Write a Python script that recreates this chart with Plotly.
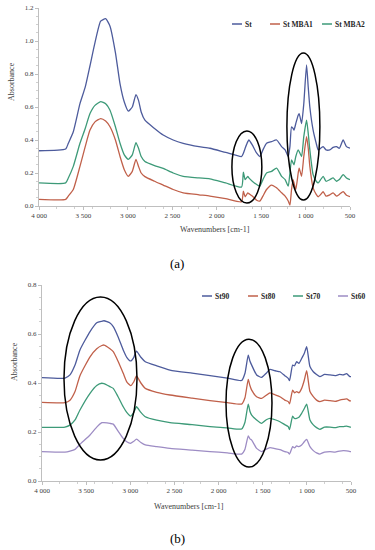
import plotly.graph_objects as go

# ---------------- Panel (a) data ----------------
a_wn = [4000, 3700, 3670, 3614, 3539, 3480, 3426, 3370, 3306, 3250, 3201, 3140, 3088, 3040, 2995, 2950,
        2909, 2880, 2850, 2808, 2700, 2602, 2490, 2377, 2200, 2077, 1900, 1720, 1700, 1680, 1650, 1638,
        1600, 1550, 1514, 1480, 1439, 1383, 1326, 1270, 1230, 1195, 1176, 1158, 1140, 1130, 1110, 1083,
        1072, 1045, 1020, 989, 970, 952, 915, 880, 858, 830, 802, 770, 727, 690, 652, 620, 577, 540, 500]
a_st = [0.335, 0.345, 0.38, 0.45, 0.62, 0.72, 0.85, 0.99, 1.12, 1.135, 1.09, 0.93, 0.74, 0.63, 0.575, 0.60,
        0.675, 0.64, 0.57, 0.52, 0.47, 0.43, 0.40, 0.38, 0.36, 0.35, 0.325, 0.30, 0.32, 0.35, 0.39, 0.40,
        0.37, 0.32, 0.30, 0.34, 0.38, 0.39, 0.40, 0.36, 0.34, 0.30, 0.36, 0.48, 0.47, 0.46, 0.50, 0.55,
        0.56, 0.50, 0.62, 0.855, 0.72, 0.60, 0.46, 0.38, 0.34, 0.35, 0.36, 0.34, 0.34, 0.355, 0.36, 0.35, 0.40, 0.36, 0.35]
a_mba1 = [0.04, 0.04, 0.06, 0.10, 0.24, 0.36, 0.46, 0.51, 0.53, 0.515, 0.48, 0.40, 0.30, 0.22, 0.18, 0.21,
          0.283, 0.24, 0.20, 0.178, 0.15, 0.127, 0.10, 0.08, 0.068, 0.06, 0.045, 0.026, 0.09, 0.056, 0.08, 0.075,
          0.06, 0.035, 0.03, 0.06, 0.10, 0.127, 0.11, 0.08, 0.06, 0.03, 0.005, 0.10, 0.16, 0.14, 0.10, 0.20,
          0.23, 0.18, 0.30, 0.42, 0.35, 0.24, 0.11, 0.07, 0.056, 0.07, 0.087, 0.06, 0.067, 0.08, 0.06, 0.07, 0.087, 0.065, 0.056]
a_mba2 = [0.14, 0.14, 0.17, 0.24, 0.38, 0.47, 0.56, 0.61, 0.632, 0.62, 0.58, 0.48, 0.38, 0.31, 0.283, 0.31,
          0.384, 0.35, 0.30, 0.27, 0.245, 0.228, 0.20, 0.18, 0.17, 0.165, 0.14, 0.115, 0.205, 0.16, 0.18, 0.17,
          0.15, 0.13, 0.12, 0.16, 0.20, 0.21, 0.23, 0.18, 0.16, 0.12, 0.20, 0.28, 0.26, 0.25, 0.30, 0.34,
          0.33, 0.30, 0.42, 0.52, 0.44, 0.34, 0.19, 0.15, 0.14, 0.16, 0.18, 0.15, 0.16, 0.17, 0.15, 0.16, 0.19, 0.17, 0.16]

# ---------------- Panel (b) data ----------------
b_wn = [4000, 3740, 3683, 3626, 3570, 3456, 3380, 3322, 3298, 3230, 3193, 3140, 3080, 3040, 2996, 2960,
        2930, 2880, 2830, 2700, 2550, 2300, 2097, 1900, 1739, 1701, 1664, 1645, 1625, 1569, 1512, 1460,
        1418, 1360, 1305, 1250, 1211, 1196, 1161, 1140, 1116, 1090, 1059, 1030, 1002, 965, 927, 890,
        852, 800, 738, 680, 630, 588, 550, 512, 500]
b_st90 = [0.422, 0.42, 0.433, 0.473, 0.535, 0.61, 0.646, 0.652, 0.654, 0.645, 0.63, 0.59, 0.535, 0.505, 0.49, 0.505,
          0.53, 0.505, 0.487, 0.47, 0.453, 0.44, 0.43, 0.42, 0.41, 0.44, 0.514, 0.49, 0.473, 0.433, 0.423, 0.44,
          0.456, 0.45, 0.446, 0.43, 0.419, 0.41, 0.473, 0.47, 0.487, 0.48, 0.50, 0.52, 0.548, 0.467, 0.446, 0.435,
          0.426, 0.435, 0.433, 0.43, 0.435, 0.433, 0.438, 0.426, 0.426]
b_st80 = [0.321, 0.32, 0.33, 0.365, 0.43, 0.507, 0.54, 0.553, 0.555, 0.54, 0.528, 0.49, 0.44, 0.405, 0.389, 0.405,
          0.429, 0.40, 0.378, 0.362, 0.351, 0.338, 0.328, 0.32, 0.314, 0.34, 0.415, 0.39, 0.371, 0.344, 0.337, 0.35,
          0.36, 0.352, 0.344, 0.33, 0.324, 0.315, 0.371, 0.36, 0.365, 0.36, 0.378, 0.41, 0.45, 0.365, 0.344, 0.33,
          0.324, 0.33, 0.328, 0.325, 0.33, 0.333, 0.335, 0.327, 0.327]
b_st70 = [0.219, 0.22, 0.228, 0.249, 0.29, 0.358, 0.39, 0.399, 0.397, 0.385, 0.378, 0.345, 0.303, 0.28, 0.265, 0.28,
          0.303, 0.28, 0.262, 0.248, 0.238, 0.23, 0.222, 0.217, 0.212, 0.24, 0.314, 0.285, 0.269, 0.249, 0.235, 0.25,
          0.256, 0.25, 0.242, 0.23, 0.222, 0.21, 0.265, 0.255, 0.256, 0.26, 0.276, 0.295, 0.314, 0.249, 0.229, 0.218,
          0.211, 0.22, 0.22, 0.218, 0.222, 0.222, 0.224, 0.22, 0.22]
b_st60 = [0.12, 0.118, 0.122, 0.129, 0.15, 0.188, 0.22, 0.238, 0.238, 0.235, 0.232, 0.205, 0.174, 0.16, 0.154, 0.162,
          0.171, 0.157, 0.147, 0.14, 0.133, 0.126, 0.12, 0.115, 0.11, 0.13, 0.184, 0.172, 0.167, 0.133, 0.12, 0.13,
          0.136, 0.132, 0.128, 0.12, 0.116, 0.11, 0.14, 0.135, 0.143, 0.14, 0.147, 0.16, 0.17, 0.14, 0.124, 0.115,
          0.11, 0.118, 0.12, 0.118, 0.122, 0.124, 0.123, 0.12, 0.12]

x_tickvals = [4000, 3500, 3000, 2500, 2000, 1500, 1000, 500]
x_ticktext = ["4 000", "3 500", "3 000", "2 500", "2 000", "1 500", "1 000", "500"]
a_yticks = [0.0, 0.2, 0.4, 0.6, 0.8, 1.0, 1.2]
b_yticks = [0.0, 0.2, 0.4, 0.6, 0.8]

a_names = ["St", "St MBA1", "St MBA2"]
b_names = ["St90", "St80", "St70", "St60"]

C_BLUE = "#4d5b9c"
C_RED = "#c0604a"
C_GREEN = "#3d9a78"
C_PURPLE = "#9d8cc4"

W, H = 375, 550
def px(x):
    return x / W
def py(y):
    return 1 - y / H

fig = go.Figure()
for name, ys, col in zip(a_names, [a_st, a_mba1, a_mba2], [C_BLUE, C_RED, C_GREEN]):
    fig.add_trace(go.Scatter(x=a_wn, y=ys, name=name, mode="lines", xaxis="x", yaxis="y",
                             line=dict(color=col, width=1.3, shape="spline", smoothing=0.5),
                             showlegend=False))
for name, ys, col in zip(b_names, [b_st90, b_st80, b_st70, b_st60], [C_BLUE, C_RED, C_GREEN, C_PURPLE]):
    fig.add_trace(go.Scatter(x=b_wn, y=ys, name=name, mode="lines", xaxis="x2", yaxis="y2",
                             line=dict(color=col, width=1.3, shape="spline", smoothing=0.5),
                             showlegend=False))

tickfont = dict(family="Liberation Serif", size=7, color="#404040")
axcommon = dict(showline=True, linecolor="#bfbfbf", linewidth=1, ticks="outside", ticklen=3,
                tickcolor="#bfbfbf", showgrid=False, zeroline=False, tickfont=tickfont, automargin=False,
                minor=dict(ticks="outside", ticklen=2, tickcolor="#d0d0d0"))

fig.update_layout(
    width=W, height=H, margin=dict(l=0, r=0, t=0, b=0, autoexpand=False),
    paper_bgcolor="white", plot_bgcolor="white",
    xaxis=dict(domain=[px(39), px(350)], anchor="y", range=[4000, 500],
               tickvals=x_tickvals, ticktext=x_ticktext, **axcommon),
    yaxis=dict(domain=[py(206), py(8)], anchor="x", range=[0, 1.2],
               tickvals=a_yticks, tickformat=".1f", **axcommon),
    xaxis2=dict(domain=[px(42), px(351)], anchor="y2", range=[4000, 500],
                tickvals=x_tickvals, ticktext=x_ticktext, **axcommon),
    yaxis2=dict(domain=[py(481), py(285)], anchor="x2", range=[0, 0.8],
                tickvals=b_yticks, tickformat=".1f", **axcommon),
    showlegend=False,
)

# Ellipses
ell = dict(type="circle", line=dict(color="black", width=1.5), fillcolor="rgba(0,0,0,0)")
fig.add_shape(xref="x", yref="y", x0=1829, x1=1492, y0=0.018, y1=0.455, **ell)
fig.add_shape(xref="x", yref="y", x0=1210, x1=839, y0=0.036, y1=0.927, **ell)
fig.add_shape(xref="x2", yref="y2", x0=3751, x1=2924, y0=0.086, y1=0.751, **ell)
fig.add_shape(xref="x2", yref="y2", x0=1916, x1=1395, y0=0.057, y1=0.579, **ell)

serif = "Liberation Serif"
ann = []
# Axis titles
ann.append(dict(text="Absorbance", x=px(12), y=py(82), textangle=-90, font=dict(family=serif, size=8, color="#404040")))
ann.append(dict(text="Absorbance", x=px(14), y=py(362), textangle=-90, font=dict(family=serif, size=8, color="#404040")))
ann.append(dict(text="Wavenumbers [cm-1]", x=px(215), y=py(229), font=dict(family=serif, size=8, color="#404040")))
ann.append(dict(text="Wavenumbers [cm-1]", x=px(189), y=py(506), font=dict(family=serif, size=8, color="#404040")))
ann.append(dict(text="(a)", x=px(177), y=py(263), font=dict(family=serif, size=13, color="black")))
ann.append(dict(text="(b)", x=px(177), y=py(538), font=dict(family=serif, size=13, color="black")))

# Legends: short coloured line sample + bold label
def legend_item(name, col, x, y):
    fig.add_shape(type="line", xref="paper", yref="paper", x0=px(x), x1=px(x + 10), y0=py(y), y1=py(y),
                  line=dict(color=col, width=1.5))
    ann.append(dict(text="<b>%s</b>" % name, x=px(x + 11), y=py(y), xanchor="left",
                    font=dict(family=serif, size=7.5, color="#262626")))
for name, col, x in zip(a_names, [C_BLUE, C_RED, C_GREEN], [232, 270, 322]):
    legend_item(name, col, x, 24)
for name, col, x in zip(b_names, [C_BLUE, C_RED, C_GREEN, C_PURPLE], [202, 248, 293, 338]):
    legend_item(name, col, x, 296)

for a in ann:
    a.setdefault("xanchor", "center")
    fig.add_annotation(xref="paper", yref="paper", showarrow=False, yanchor="middle", **a)

fig.write_html("out.html", config={"displayModeBar": False})

# remove the default page margin so the figure sits at the window's top-left corner
with open("out.html", "r", encoding="utf-8") as f:
    html = f.read()
html = html.replace("<head>", "<head><style>html,body{margin:0;padding:0;overflow:hidden;}</style>", 1)
with open("out.html", "w", encoding="utf-8") as f:
    f.write(html)
